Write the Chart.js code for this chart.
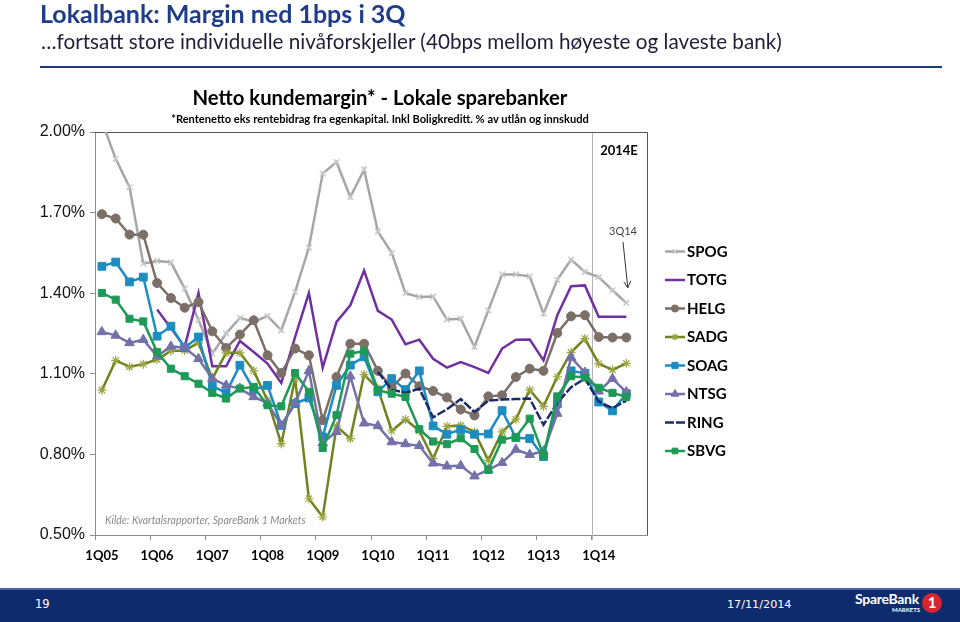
<!DOCTYPE html>
<html>
<head>
<meta charset="utf-8">
<script src="https://cdn.jsdelivr.net/npm/chart.js@4.4.1/dist/chart.umd.min.js"></script>
<style>
  body { margin: 0; background: #fff; }
  #page { position: relative; width: 960px; height: 622px; overflow: hidden; font-family: Lato, "Open Sans", sans-serif; }
  #page canvas { position: absolute; left: 0; top: 0; }
  .txt { position: absolute; white-space: nowrap; line-height: 1; }
  #footer { position: absolute; left: 0; top: 588px; width: 960px; height: 34px; background: #0e2b6e; border-top: 2px solid #4a64a0; box-sizing: border-box; }
</style>
</head>
<body>
<div id="page">
  <canvas id="marginChart" width="960" height="622"></canvas>

  <div class="txt" style="left:40px; top:1px; font-weight:bold; font-size:25px; color:#1f3c88;">Lokalbank: Margin ned 1bps i 3Q</div>
  <div class="txt" style="left:41px; top:31px; font-size:20.7px; color:#1e1e38;">…fortsatt store individuelle nivåforskjeller (40bps mellom høyeste og laveste bank)</div>
  <div style="position:absolute; left:40px; top:66px; width:902px; height:2px; background:#1f3a7a;"></div>

  <div class="txt" style="left:0; width:760px; text-align:center; top:87px; font-weight:bold; font-size:20.3px; color:#000;">Netto kundemargin* - Lokale sparebanker</div>
  <div class="txt" style="left:0; width:760px; text-align:center; top:113px; font-weight:bold; font-size:11.1px; color:#000;">*Rentenetto eks rentebidrag fra egenkapital. Inkl Boligkreditt. % av utlån og innskudd</div>

  <div class="txt" style="left:599px; width:40px; text-align:center; top:144px; font-weight:bold; font-size:13px; color:#000;">2014E</div>
  <div class="txt" style="left:603px; width:40px; text-align:center; top:225px; font-size:11px; color:#444;">3Q14</div>
  <div class="txt" style="left:105px; top:515px; font-style:italic; font-size:10.5px; color:#8a8a8a;">Kilde: Kvartalsrapporter, SpareBank 1 Markets</div>

  <div id="legendText"></div>

  <div id="footer">
    <div class="txt" style="left:35px; top:9px; font-family:'DejaVu Sans'; font-size:11.5px; color:#fff;">19</div>
    <div class="txt" style="left:727px; top:9px; font-family:'DejaVu Sans'; font-size:11.2px; color:#fff;">17/11/2014</div>
    <div class="txt" style="left:855px; top:2px; font-weight:bold; font-size:14px; color:#fff; letter-spacing:-0.3px;">SpareBank</div>
    <div class="txt" style="left:892px; top:17px; font-weight:bold; font-size:6px; color:#fff;">MARKETS</div>
    <div style="position:absolute; left:922px; top:3px; width:20px; height:20px; border-radius:50%; background:#d8262f;"></div>
    <div class="txt" style="left:922px; top:5px; width:20px; text-align:center; font-weight:bold; font-size:15px; color:#fff;">1</div>
  </div>
</div>

<script>
// kvartaler 1Q05 - 4Q14
var quarters = [
    "1Q05", "2Q05", "3Q05", "4Q05", "1Q06", "2Q06", "3Q06", "4Q06",
    "1Q07", "2Q07", "3Q07", "4Q07", "1Q08", "2Q08", "3Q08", "4Q08",
    "1Q09", "2Q09", "3Q09", "4Q09", "1Q10", "2Q10", "3Q10", "4Q10",
    "1Q11", "2Q11", "3Q11", "4Q11", "1Q12", "2Q12", "3Q12", "4Q12",
    "1Q13", "2Q13", "3Q13", "4Q13", "1Q14", "2Q14", "3Q14", "4Q14"
];

var yTicks = [0.5, 0.8, 1.1, 1.4, 1.7, 2.0];

var spog = [2.04, 1.90, 1.795, 1.51, 1.52, 1.515, 1.417, 1.30, 1.175, 1.25, 1.308, 1.293, 1.315, 1.262, 1.405, 1.57,
    1.845, 1.888, 1.758, 1.86, 1.63, 1.55, 1.40, 1.386, 1.388, 1.302, 1.305, 1.20, 1.336, 1.47, 1.47, 1.463,
    1.324, 1.45, 1.525, 1.479, 1.46, 1.411, 1.364, null];
var totg = [null, null, null, null, 1.339, 1.27, 1.20, 1.401, 1.128, 1.128, 1.222, 1.181, 1.138, 1.066, 1.237, 1.401,
    1.123, 1.293, 1.355, 1.484, 1.334, 1.302, 1.210, 1.227, 1.156, 1.123, 1.144, 1.125, 1.103, 1.194, 1.227, 1.228,
    1.150, 1.318, 1.426, 1.429, 1.312, 1.312, 1.312, null];
var helg = [1.694, 1.678, 1.618, 1.618, 1.438, 1.382, 1.346, 1.367, 1.258, 1.196, 1.246, 1.299, 1.169, 1.103, 1.194, 1.169,
    0.927, 1.088, 1.212, 1.212, 1.111, 1.049, 1.101, 1.054, 1.036, 1.012, 0.967, 0.945, 1.016, 1.020, 1.088, 1.119,
    1.111, 1.252, 1.314, 1.318, 1.237, 1.235, 1.235, null];
var sadg = [1.039, 1.150, 1.126, 1.136, 1.153, 1.185, 1.187, 1.215, 1.082, 1.178, 1.178, 1.111, 1.002, 0.840, 1.082, 0.635,
    0.567, 0.905, 0.859, 1.097, 1.045, 0.888, 0.930, 0.888, 0.784, 0.904, 0.908, 0.884, 0.778, 0.884, 0.931, 1.040,
    0.979, 1.089, 1.180, 1.231, 1.138, 1.115, 1.139, null];
var soag = [1.500, 1.516, 1.442, 1.460, 1.240, 1.277, 1.197, 1.237, 1.054, 1.029, 1.132, 1.041, 1.057, 0.908, 0.989, 1.010,
    0.865, 1.057, 1.132, 1.163, 1.033, 1.082, 1.041, 1.111, 0.906, 0.875, 0.892, 0.875, 0.876, 0.963, 0.862, 0.859,
    0.792, 0.988, 1.111, 1.102, 0.995, 0.962, 1.026, null];
var ntsg = [1.256, 1.243, 1.215, 1.227, 1.165, 1.202, 1.197, 1.156, 1.082, 1.057, 1.045, 1.014, 0.991, 0.908, 0.991, 1.111,
    0.843, 0.884, 1.091, 0.916, 0.906, 0.846, 0.839, 0.832, 0.767, 0.756, 0.758, 0.719, 0.742, 0.769, 0.818, 0.799,
    0.812, 0.952, 1.161, 1.105, 1.035, 1.082, 1.032, null];
var ring = [null, null, null, null, null, null, null, null, null, null, null, null, null, null, null, null,
    null, null, null, null, 1.107, 1.041, 1.029, 1.045, 0.938, 0.968, 1.006, 0.958, 1.000, 1.004, 1.006, 1.008,
    0.910, 0.992, 1.050, 1.082, 0.997, 0.972, 1.000, null];
var sbvg = [1.401, 1.376, 1.305, 1.295, 1.181, 1.119, 1.091, 1.063, 1.029, 1.008, 1.045, 1.051, 0.983, 0.979, 1.103, 1.033,
    0.824, 0.946, 1.175, 1.185, 1.040, 1.026, 1.014, 0.894, 0.848, 0.838, 0.860, 0.820, 0.742, 0.855, 0.865, 0.933,
    0.797, 1.016, 1.091, 1.086, 1.048, 1.029, 1.014, null];

var legendTop = 251.5;
var legendStep = 28.5;

function serie(label, data, color, extra) {
    var ds = {
        label: label,
        data: data,
        borderColor: color,
        backgroundColor: color,
        pointBackgroundColor: color,
        pointBorderColor: color,
        borderWidth: 2.5,
        pointRadius: 0,
        pointHoverRadius: 0,
        tension: 0,
        spanGaps: false
    };
    for (var k in extra) ds[k] = extra[k];
    return ds;
}

var datasets = [
    serie("SPOG", spog, "#a6a6a6", { pointStyle: "crossRot", pointRadius: 4, pointBorderColor: "#c9c9c9", pointBorderWidth: 1.5 }),
    serie("TOTG", totg, "#7030a0", {}),
    serie("HELG", helg, "#7c6f67", { pointStyle: "circle", pointRadius: 4.5, pointBorderWidth: 1 }),
    serie("SADG", sadg, "#6f8420", { pointStyle: "star", pointRadius: 4.5, pointBorderColor: "#9aa53c", pointBorderWidth: 1.2 }),
    serie("SOAG", soag, "#1d8cc0", { pointStyle: "rect", pointRadius: 5.5, pointBorderWidth: 1 }),
    serie("NTSG", ntsg, "#7470a8", { pointStyle: "triangle", pointRadius: 5.5, pointBorderWidth: 1 }),
    serie("RING", ring, "#1b2a6b", { borderDash: [9, 2] }),
    serie("SBVG", sbvg, "#1e9a57", { pointStyle: "rect", pointRadius: 5, pointBorderWidth: 1 })
];
// senere serier tegnes oppå (som i Excel)
datasets.forEach(function (ds, i) { ds.order = datasets.length - i; });

// legend-tekst som html
var legendHtml = "";
datasets.forEach(function (ds, i) {
    legendHtml += '<div class="txt" style="left:687px; top:' + (legendTop + i * legendStep - 8) +
        'px; font-weight:bold; font-size:15px; color:#000;">' + ds.label + '</div>';
});
document.getElementById("legendText").innerHTML = legendHtml;

var boxPlugin = {
    id: "boxPlugin",
    beforeDatasetsDraw: function (chart) {
        var ctx = chart.ctx, a = chart.chartArea, x = chart.scales.x;
        ctx.save();
        // skille mellom 2013 og 2014E
        var sep = (x.getPixelForValue(35) + x.getPixelForValue(36)) / 2;
        ctx.strokeStyle = "#b4b4b4";
        ctx.lineWidth = 1;
        ctx.beginPath();
        ctx.moveTo(Math.round(sep) + 0.5, a.top);
        ctx.lineTo(Math.round(sep) + 0.5, a.bottom + 5);
        ctx.stroke();
        // ramme topp og høyre
        ctx.strokeStyle = "#555";
        ctx.beginPath();
        ctx.moveTo(a.left, a.top + 0.5);
        ctx.lineTo(a.right + 0.5, a.top + 0.5);
        ctx.lineTo(a.right + 0.5, a.bottom);
        ctx.stroke();
        ctx.restore();
    },
    afterDraw: function (chart) {
        var ctx = chart.ctx, x = chart.scales.x, y = chart.scales.y;
        ctx.save();
        // pil fra 3Q14-teksten
        var ax = x.getPixelForValue(38) + 1.5, ay = y.getPixelForValue(1.42);
        ctx.strokeStyle = "#333";
        ctx.lineWidth = 1;
        ctx.beginPath();
        ctx.moveTo(623, 242);
        ctx.lineTo(ax, ay);
        ctx.moveTo(ax - 4, ay - 6);
        ctx.lineTo(ax, ay);
        ctx.lineTo(ax + 3, ay - 7);
        ctx.stroke();

        // legend-symboler
        chart.data.datasets.forEach(function (ds, i) {
            var ly = legendTop + i * legendStep;
            ctx.strokeStyle = ds.borderColor;
            ctx.lineWidth = 2.5;
            ctx.setLineDash(ds.borderDash || []);
            ctx.beginPath();
            ctx.moveTo(665, ly);
            ctx.lineTo(685, ly);
            ctx.stroke();
            ctx.setLineDash([]);
            if (ds.pointRadius > 0) {
                ctx.fillStyle = ds.pointBackgroundColor;
                ctx.strokeStyle = ds.pointBorderColor;
                ctx.lineWidth = ds.pointBorderWidth;
                Chart.helpers.drawPoint(ctx, {
                    pointStyle: ds.pointStyle,
                    radius: ds.pointRadius * 0.8,
                    rotation: 0,
                    borderWidth: ds.pointBorderWidth
                }, 675, ly);
            }
        });
        ctx.restore();
    }
};

var ctx = document.getElementById("marginChart").getContext("2d");
var chart = new Chart(ctx, {
    type: "line",
    data: {
        labels: quarters,
        datasets: datasets
    },
    options: {
        responsive: false,
        animation: false,
        layout: {
            padding: { top: 132, right: 313, left: 0, bottom: 0 }
        },
        plugins: {
            legend: { display: false },
            tooltip: { enabled: false }
        },
        scales: {
            x: {
                offset: true,
                grid: {
                    offset: true,
                    drawOnChartArea: false,
                    tickLength: 5,
                    color: function (c) { return c.index % 4 === 0 ? "#8c8c8c" : "rgba(0,0,0,0)"; }
                },
                border: { color: "#8c8c8c" },
                ticks: {
                    autoSkip: false,
                    maxRotation: 0,
                    padding: 8,
                    color: "#000",
                    font: { family: "Lato", weight: "bold", size: 13 },
                    callback: function (v, i) { return i % 4 === 0 ? this.getLabelForValue(v) : ""; }
                },
                afterFit: function (s) { s.height = 87; }
            },
            y: {
                min: yTicks[0],
                max: yTicks[yTicks.length - 1],
                afterBuildTicks: function (s) { s.ticks = yTicks.map(function (v) { return { value: v }; }); },
                grid: {
                    drawOnChartArea: false,
                    tickLength: 5,
                    color: "#8c8c8c"
                },
                border: { color: "#8c8c8c" },
                ticks: {
                    padding: 5,
                    color: "#111",
                    font: { family: "Liberation Sans", size: 16 },
                    callback: function (v) { return v.toFixed(2) + "%"; }
                },
                afterFit: function (s) { s.width = 95; }
            }
        }
    },
    plugins: [boxPlugin]
});
</script>
</body>
</html>
